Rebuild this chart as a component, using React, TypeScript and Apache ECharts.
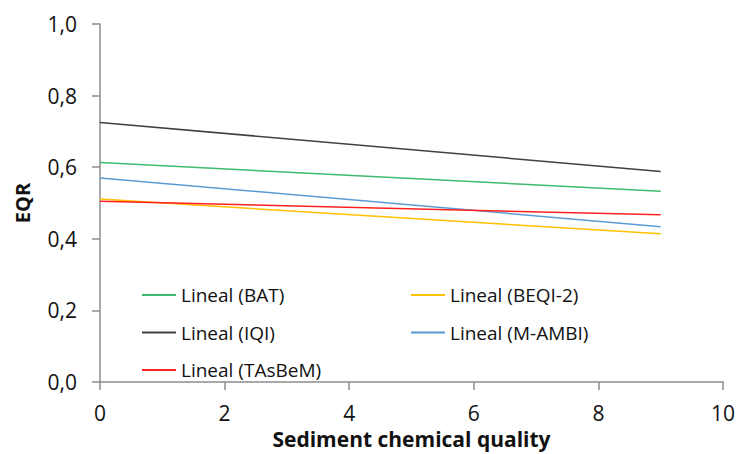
import React, { useEffect, useRef } from "react";
import * as echarts from "echarts";

// Linear trend lines of each index vs. sediment chemical quality (start at x=0, end at x=9)
const xRange = [0, 9];
const seriesNames = ["Lineal (BAT)", "Lineal (BEQI-2)", "Lineal (IQI)", "Lineal (M-AMBI)", "Lineal (TAsBeM)"];
const batValues = [0.613, 0.533];
const beqiValues = [0.511, 0.414];
const iqiValues = [0.725, 0.588];
const mambiValues = [0.57, 0.434];
const tasbemValues = [0.505, 0.467];
const seriesColors = ["#3dbb6e", "#ffc000", "#404040", "#5b9bd5", "#ff2020"];
const yTicks = [0, 0.2, 0.4, 0.6, 0.8, 1.0];

const FONT = "'Open Sans', 'Noto Sans', sans-serif";

export default function App() {
  const ref = useRef<HTMLDivElement>(null);

  useEffect(() => {
    document.body.style.margin = "0";
    if (!ref.current) return;
    const chart = echarts.init(ref.current, null, { renderer: "svg" });
    const allValues = [batValues, beqiValues, iqiValues, mambiValues, tasbemValues];
    const axisColor = "#8c8c8c";

    const legendText = { fontFamily: FONT, fontSize: 19, color: "#111", lineHeight: 22 };
    const legendCommon = {
      orient: "vertical" as const,
      top: 284,
      padding: 0,
      itemWidth: 34,
      itemHeight: 2,
      itemGap: 15.5,
      icon: "rect",
      textStyle: legendText,
    };

    chart.setOption({
      animation: false,
      backgroundColor: "#fff",
      grid: { left: 100, right: 16, top: 24, bottom: 66 },
      legend: [
        { ...legendCommon, left: 142, data: [seriesNames[0], seriesNames[2], seriesNames[4]] },
        { ...legendCommon, left: 411, data: [seriesNames[1], seriesNames[3]] },
      ],
      xAxis: {
        type: "value",
        min: 0,
        max: 10,
        interval: 2,
        name: "Sediment chemical quality",
        nameLocation: "middle",
        nameGap: 41,
        nameTextStyle: { fontFamily: FONT, fontSize: 21, fontWeight: "bold", color: "#111" },
        axisLine: { show: true, lineStyle: { color: axisColor, width: 1.5 } },
        axisTick: { show: true, length: 8, lineStyle: { color: axisColor, width: 1.5 } },
        axisLabel: { fontFamily: FONT, fontSize: 21, color: "#111", margin: 20 },
        splitLine: { show: false },
      },
      yAxis: {
        type: "value",
        min: 0,
        max: 1,
        interval: 0.2,
        name: "EQR",
        nameLocation: "middle",
        nameGap: 68,
        nameTextStyle: { fontFamily: FONT, fontSize: 20, fontWeight: "bold", color: "#111" },
        axisLine: { show: true, lineStyle: { color: axisColor, width: 1.5 } },
        axisTick: { show: true, length: 8, lineStyle: { color: axisColor, width: 1.5 } },
        axisLabel: {
          fontFamily: FONT,
          fontSize: 21,
          color: "#111",
          margin: 23,
          formatter: (v: number) =>
            yTicks.includes(Math.round(v * 10) / 10) ? v.toFixed(1).replace(".", ",") : "",
        },
        splitLine: { show: false },
      },
      series: seriesNames.map((name, i) => ({
        name,
        type: "line",
        showSymbol: false,
        symbol: "none",
        color: seriesColors[i],
        lineStyle: { width: 1.5, color: seriesColors[i] },
        data: xRange.map((x, j) => [x, allValues[i][j]]),
      })),
    });

    return () => chart.dispose();
  }, []);

  return <div ref={ref} style={{ width: 739, height: 454 }} />;
}
